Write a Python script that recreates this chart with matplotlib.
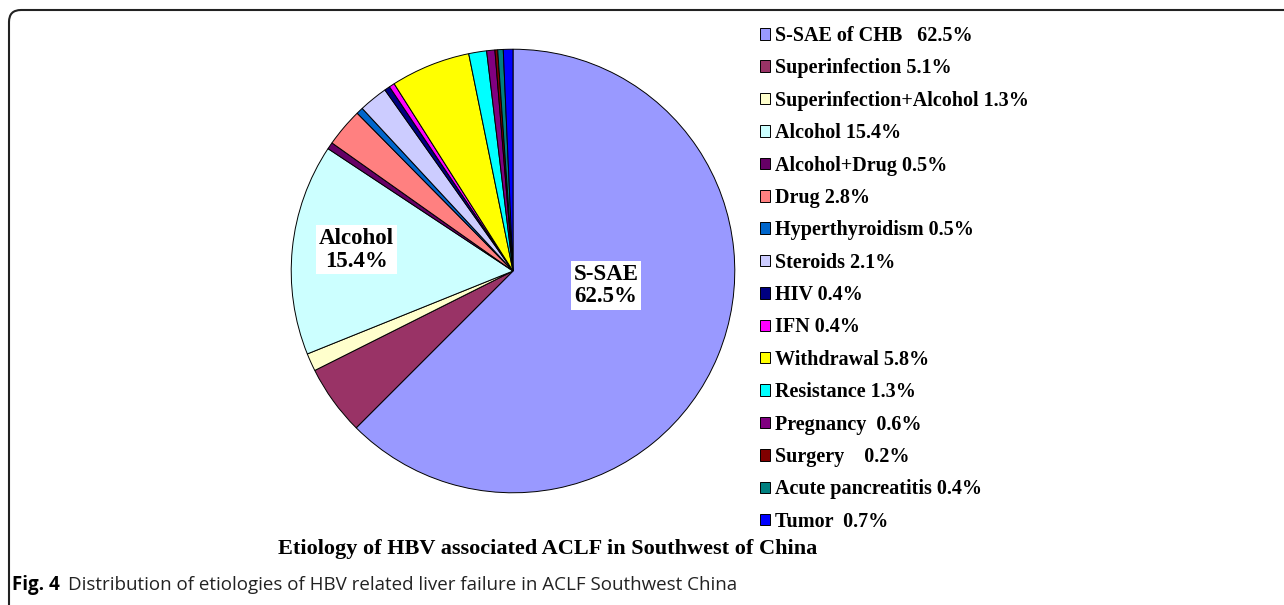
import matplotlib
matplotlib.use('Agg')
import matplotlib.pyplot as plt
from matplotlib.patches import FancyBboxPatch

# Daten
labels = ['S-SAE of CHB   62.5%', 'Superinfection 5.1%', 'Superinfection+Alcohol 1.3%',
          'Alcohol 15.4%', 'Alcohol+Drug 0.5%', 'Drug 2.8%', 'Hyperthyroidism 0.5%',
          'Steroids 2.1%', 'HIV 0.4%', 'IFN 0.4%', 'Withdrawal 5.8%', 'Resistance 1.3%',
          'Pregnancy  0.6%', 'Surgery    0.2%', 'Acute pancreatitis 0.4%', 'Tumor  0.7%']
werte = [62.5, 5.1, 1.3, 15.4, 0.5, 2.8, 0.5, 2.1, 0.4, 0.4, 5.8, 1.3, 0.6, 0.2, 0.4, 0.7]
farben = ['#9999FF', '#993366', '#FFFFCC', '#CCFFFF', '#660066', '#FF8080', '#0066CC',
          '#CCCCFF', '#000080', '#FF00FF', '#FFFF00', '#00FFFF', '#800080', '#800000',
          '#008080', '#0000FF']
titel = 'Etiology of HBV associated ACLF in Southwest of China'

W, H = 1284, 605
fig = plt.figure(figsize=(W/100, H/100), dpi=100)

# Rahmen
rahmen = FancyBboxPatch((9, -30), 1320, H - 10 + 30, boxstyle='round,pad=0,rounding_size=12',
                        transform=None, fill=False, edgecolor='#222222', linewidth=1.5)
fig.patches.append(rahmen)

# Tortendiagramm
cx, cy, r = 513, 271, 224
ax = fig.add_axes([(cx - r)/W, (H - cy - r)/H, 2*r/W, 2*r/H])
wedges, _ = ax.pie(werte, colors=farben, startangle=90, counterclock=False,
                   wedgeprops=dict(edgecolor='black', linewidth=0.7))
ax.set_xlim(-1.01, 1.01)
ax.set_ylim(-1.01, 1.01)

serif = 'Liberation Serif'
ax.text(0.42, -0.065, 'S-SAE\n62.5%', ha='center', va='center', fontsize=16.5, fontweight='bold',
        family=serif, linespacing=1.1,
        bbox=dict(facecolor='white', edgecolor='none', pad=2))
ax.text(-0.705, 0.095, 'Alcohol\n15.4%', ha='center', va='center', fontsize=16.5, fontweight='bold',
        family=serif, linespacing=1.1,
        bbox=dict(facecolor='white', edgecolor='none', pad=2))

# Legende
leg = fig.legend(wedges, labels, loc='upper left', bbox_to_anchor=(760/W, 1 - 26/H),
                 frameon=False, prop=dict(family=serif, weight='bold', size=14.5),
                 handlelength=0.5, handleheight=0.5, handletextpad=0.25,
                 labelspacing=0.615, borderaxespad=0, borderpad=0)

fig.text(548/W, 1 - 549/H, titel, ha='center', va='center', fontsize=16,
         fontweight='bold', family=serif)

fig.text(12/W, 1 - 585/H, 'Fig. 4', ha='left', va='center', fontsize=13.5,
         fontweight='bold', family='Open Sans')
fig.text(68/W, 1 - 585/H, 'Distribution of etiologies of HBV related liver failure in ACLF Southwest China',
         ha='left', va='center', fontsize=13.5, family='Open Sans', color='#222222')

fig.savefig('out.png', dpi=100)
